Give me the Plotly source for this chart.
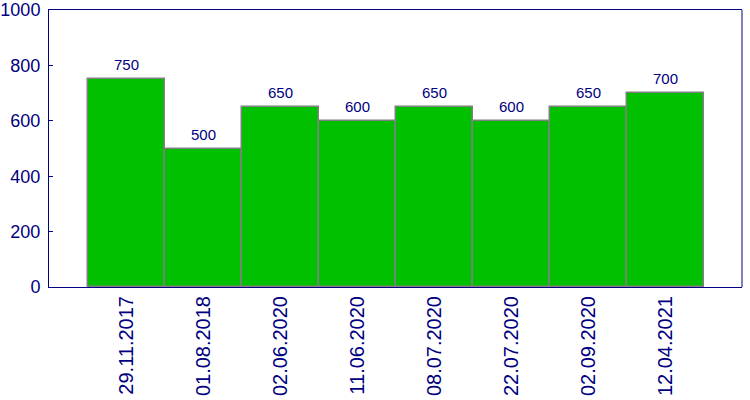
import plotly.graph_objects as go

dates = ["29.11.2017", "01.08.2018", "02.06.2020", "11.06.2020",
         "08.07.2020", "22.07.2020", "02.09.2020", "12.04.2021"]
values = [750, 500, 650, 600, 650, 600, 650, 700]
y_ticks = [0, 200, 400, 600, 800, 1000]

navy = "#000080"

fig = go.Figure(go.Bar(
    x=dates, y=values,
    marker=dict(color="#00C000", line=dict(color="#808080", width=1.5)),
))

for d, v in zip(dates, values):
    fig.add_annotation(
        x=d, y=v, text=str(v), showarrow=False,
        yanchor="bottom", yshift=4,
        font=dict(family="Liberation Sans, Arial", size=15, color=navy),
    )

fig.update_layout(
    width=750, height=400,
    margin=dict(l=49, r=8, t=10, b=113),
    paper_bgcolor="white", plot_bgcolor="white",
    bargap=0,
    showlegend=False,
    font=dict(family="Liberation Sans, Arial", color=navy),
    xaxis=dict(
        type="category", range=[-1, 8], tickangle=-90, automargin=False,
        tickfont=dict(size=20, color=navy), showgrid=False,
        showline=True, linecolor=navy, linewidth=1, mirror=True,
        ticks="", ticklen=0,
    ),
    yaxis=dict(
        range=[0, 1000], tickvals=y_ticks, tickfont=dict(size=18, color=navy),
        showgrid=False, zeroline=False, automargin=False,
        showline=True, linecolor=navy, linewidth=1, mirror=False,
        ticks="inside", ticklen=4, tickcolor=navy, ticklabelstandoff=4,
    ),
    shapes=[dict(type="line", xref="paper", yref="paper", x0=1, x1=1, y0=0, y1=1,
                 line=dict(color=navy, width=1))],
)

fig.write_html("out.html")
